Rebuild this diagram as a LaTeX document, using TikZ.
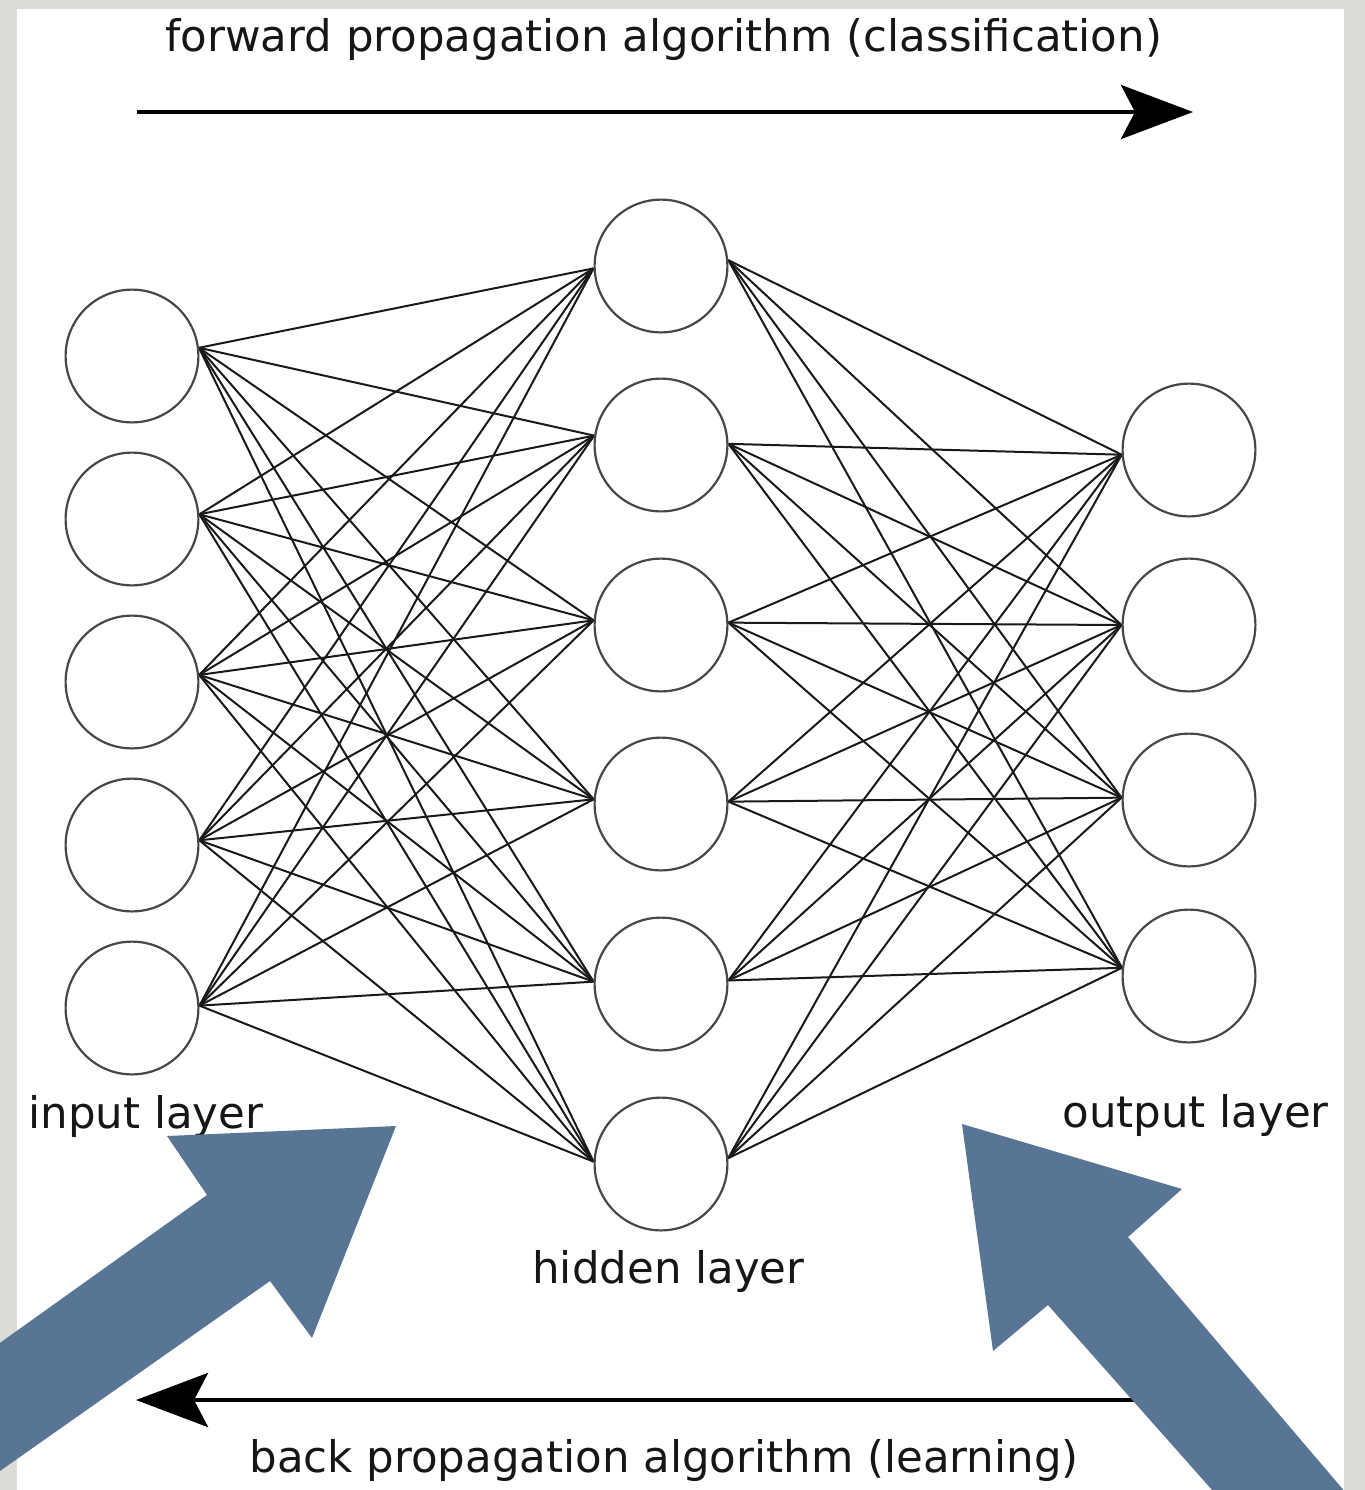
\documentclass[tikz,border=0pt]{standalone}
\usepackage{fontspec}
\setmainfont{DejaVu Sans}
\usetikzlibrary{arrows.meta}
\definecolor{framegray}{RGB}{221,221,215}
\definecolor{slateblue}{RGB}{89,117,150}
\definecolor{inkgray}{RGB}{22,22,22}
\pgfdeclarelayer{paper}
\pgfdeclarelayer{wires}
\pgfsetlayers{paper,wires,main}
\begin{document}
\begin{tikzpicture}[x=0.5pt,y=-0.5pt,
  neuron/.style={circle,draw=black!72,line width=1.1pt,fill=white,minimum size=66.4pt,inner sep=0pt},
  synapse/.style={line width=1pt,draw=black!90},
  layertext/.style={inner sep=0pt,text=inkgray,font=\fontsize{21.75}{26}\selectfont},
  flow/.style={line width=2.4pt,draw=black,-{Stealth[length=36pt,width=27pt,inset=7pt]}},
  bigarrow/.style={fill=slateblue,draw=none}
]
% page frame
\useasboundingbox (0,0) rectangle (1365,1490);
\begin{pgfonlayer}{paper}
\fill[framegray] (0,0) rectangle (1365,1490);
\fill[white] (17,9) rectangle (1344,1495);
\end{pgfonlayer}

% layers of neurons
\foreach \n/\y in {1/356,2/519,3/682,4/845,5/1008}
  \node[neuron] (i\n) at (132,\y) {};
\foreach \n/\y in {1/266,2/445,3/625,4/804,5/984,6/1164}
  \node[neuron] (h\n) at (661,\y) {};
\foreach \n/\y in {1/450,2/625,3/800,4/976}
  \node[neuron] (o\n) at (1189,\y) {};

% fully connected weights, kept behind the neurons
\begin{pgfonlayer}{wires}
\foreach \a/\aa in {1/7,2/4,3/6,4/4,5/2}
  \foreach \b/\bb in {1/182,2/172,3/176,4/176,5/178,6/178}
    \draw[synapse] (i\a.\aa) -- (h\b.\bb);
\foreach \b/\bb in {1/5,2/1,3/2,4/2,5/3,6/5}
  \foreach \c/\cc in {1/184,2/180,3/178,4/173}
    \draw[synapse] (h\b.\bb) -- (o\c.\cc);
\end{pgfonlayer}

% direction arrows and captions
\coordinate (fwdstart) at (137,112);
\coordinate (fwdend) at (1193,112);
\draw[flow] (fwdstart) -- (fwdend);
\coordinate (backstart) at (1150,1400);
\coordinate (backend) at (136,1400);
\draw[flow] (backstart) -- (backend);

\node[layertext,anchor=base west] (fwdtext) at (165,51) {forward propagation algorithm (classification)};
\node[layertext,anchor=base west] (backtext) at (249,1472) {back propagation algorithm (learning)};
\node[layertext,anchor=base west] (intext) at (28,1128) {input layer};
\node[layertext,anchor=base west] (hidtext) at (532,1283) {hidden layer};
\node[layertext,anchor=base west] (outtext) at (1062,1127) {output layer};

% highlight arrows
\fill[bigarrow] (-10,1350) -- (207,1195) -- (167,1136) -- (396,1126)
  -- (312,1338) -- (270,1281) -- (-10,1478) -- cycle;
\fill[bigarrow] (962,1124) -- (1182,1189) -- (1128,1237) -- (1352,1500)
  -- (1221,1500) -- (1048,1305) -- (993,1351) -- cycle;
\end{tikzpicture}
\end{document}
